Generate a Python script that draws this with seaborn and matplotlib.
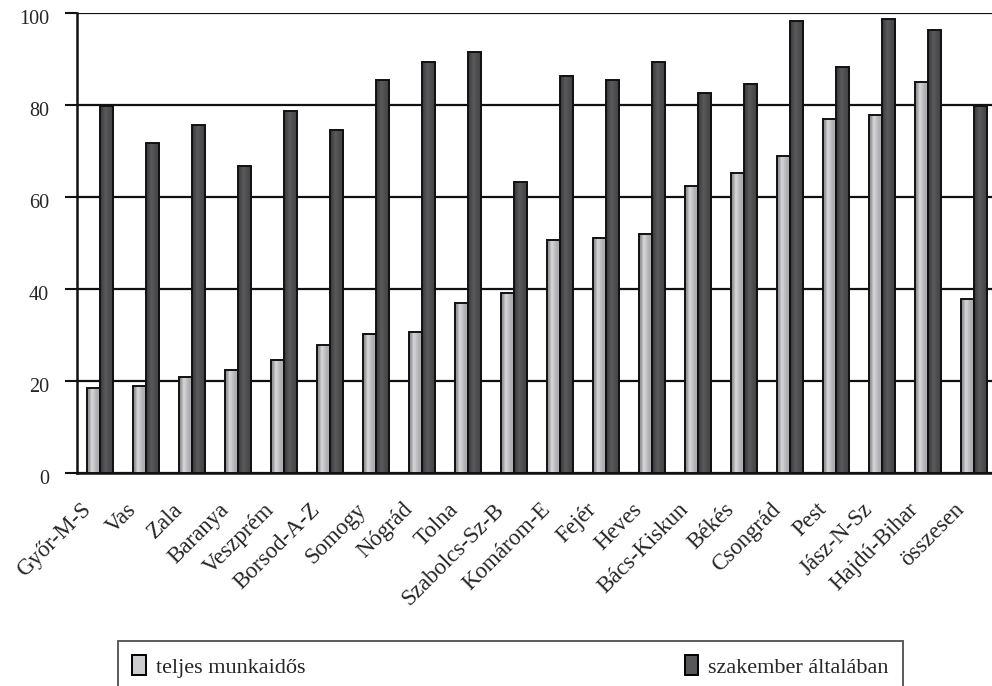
import numpy as np
import pandas as pd
import matplotlib.pyplot as plt
import seaborn as sns
from matplotlib.colors import LinearSegmentedColormap
from matplotlib.ticker import FixedLocator
from matplotlib.transforms import ScaledTranslation

# data
counties = ["Győr-M-S", "Vas", "Zala", "Baranya", "Veszprém", "Borsod-A-Z",
            "Somogy", "Nógrád", "Tolna", "Szabolcs-Sz-B", "Komárom-E", "Fejér",
            "Heves", "Bács-Kiskun", "Békés", "Csongrád", "Pest", "Jász-N-Sz",
            "Hajdú-Bihar", "összesen"]
teljes = [18.5, 18.9, 20.8, 22.3, 24.6, 27.9, 30.3, 30.7, 36.9, 39.2,
          50.6, 51.0, 51.9, 62.3, 65.2, 69.0, 77.0, 77.9, 85.0, 37.8]
szakember = [79.8, 71.7, 75.6, 66.7, 78.8, 74.6, 85.4, 89.3, 91.6, 63.3,
             86.4, 85.4, 89.3, 82.6, 84.6, 98.2, 88.3, 98.7, 96.3, 79.8]
series_names = ["teljes munkaidős", "szakember általában"]
yticks = [0, 20, 40, 60, 80, 100]

df = pd.DataFrame({"megye": counties, series_names[0]: teljes, series_names[1]: szakember})
df = df.melt(id_vars="megye", var_name="sorozat", value_name="arany")

sns.set_style("white")
plt.rcParams["font.family"] = ["Liberation Serif", "DejaVu Serif"]

fig = plt.figure(figsize=(9.92, 6.86), dpi=100)
ax = fig.add_axes([77 / 992, 1 - 473 / 686, 920 / 992, 460 / 686])

sns.barplot(data=df, x="megye", y="arany", hue="sorozat", hue_order=series_names,
            palette=["#b4b4b8", "#4a4a4c"], width=0.58, edgecolor="#111111",
            linewidth=1.4, ax=ax, zorder=3)

# cylinder-like shading inside each bar
light_cmap = LinearSegmentedColormap.from_list(
    "light", ["#88888c", "#a0a0a4", "#d8d8da", "#c8c8ca", "#b4b4b8", "#aeaeb2", "#a2a2a6"])
dark_cmap = LinearSegmentedColormap.from_list(
    "dark", ["#363638", "#4a4a4c", "#5a5a5c", "#505052", "#48484a", "#3a3a3c"])
grad = np.linspace(0, 1, 64).reshape(1, -1)
for cont, cmap in zip(ax.containers, [light_cmap, dark_cmap]):
    for bar in cont:
        x, w, h = bar.get_x(), bar.get_width(), bar.get_height()
        im = ax.imshow(grad, extent=[x, x + w, 0, h], aspect="auto", cmap=cmap,
                       zorder=2.9, interpolation="bilinear")
        im.set_clip_path(bar)
        bar.set_facecolor("none")

ax.set_xlim(-0.5, len(counties) - 0.5)
ax.set_ylim(0, 100)
ax.set_yticks(yticks)
ax.yaxis.grid(True, color="#111111", linewidth=1.6)
ax.set_axisbelow(True)
for s in ["top", "right"]:
    ax.spines[s].set_visible(False)
for s in ["left", "bottom"]:
    ax.spines[s].set_color("#111111")
    ax.spines[s].set_linewidth(1.8)

# ticks sit between the categories, labels are slanted
ax.xaxis.set_minor_locator(FixedLocator(np.arange(-0.5, len(counties), 1)))
ax.tick_params(axis="x", which="major", length=0, pad=0, labelsize=16.5)
ax.tick_params(axis="x", which="minor", length=7, width=1.5, color="#111111", direction="out")
ax.tick_params(axis="y", length=9, width=1.5, color="#111111", labelsize=14.5, pad=11, left=True)
xoff = ScaledTranslation(-20 / 100, -26 / 100, fig.dpi_scale_trans)
for lab in ax.get_xticklabels():
    lab.set_rotation(45)
    lab.set_ha("right")
    lab.set_rotation_mode("anchor")
    lab.set_transform(lab.get_transform() + xoff)
yoff = ScaledTranslation(0, -4 / 100, fig.dpi_scale_trans)
for lab in ax.get_yticklabels():
    lab.set_transform(lab.get_transform() + yoff)
ax.set_xlabel("")
ax.set_ylabel("")

handles, labels = ax.get_legend_handles_labels()
ax.get_legend().remove()
for hnd, cmap in zip(handles, [light_cmap, dark_cmap]):
    hnd.set_facecolor(cmap(0.45))
    hnd.set_edgecolor("black")
    hnd.set_linewidth(1.4)
leg = fig.legend(handles, labels, loc="upper left", ncol=2, mode="expand",
                 bbox_to_anchor=(118 / 992, 1 - 641 / 686, 785 / 992, 0.0),
                 frameon=True, fancybox=False, edgecolor="#222222", fontsize=16,
                 handlelength=0.6, handleheight=0.95, handletextpad=0.45,
                 borderpad=0.65, borderaxespad=0)
leg.get_frame().set_linewidth(1.3)

fig.savefig("out.png", dpi=100)
